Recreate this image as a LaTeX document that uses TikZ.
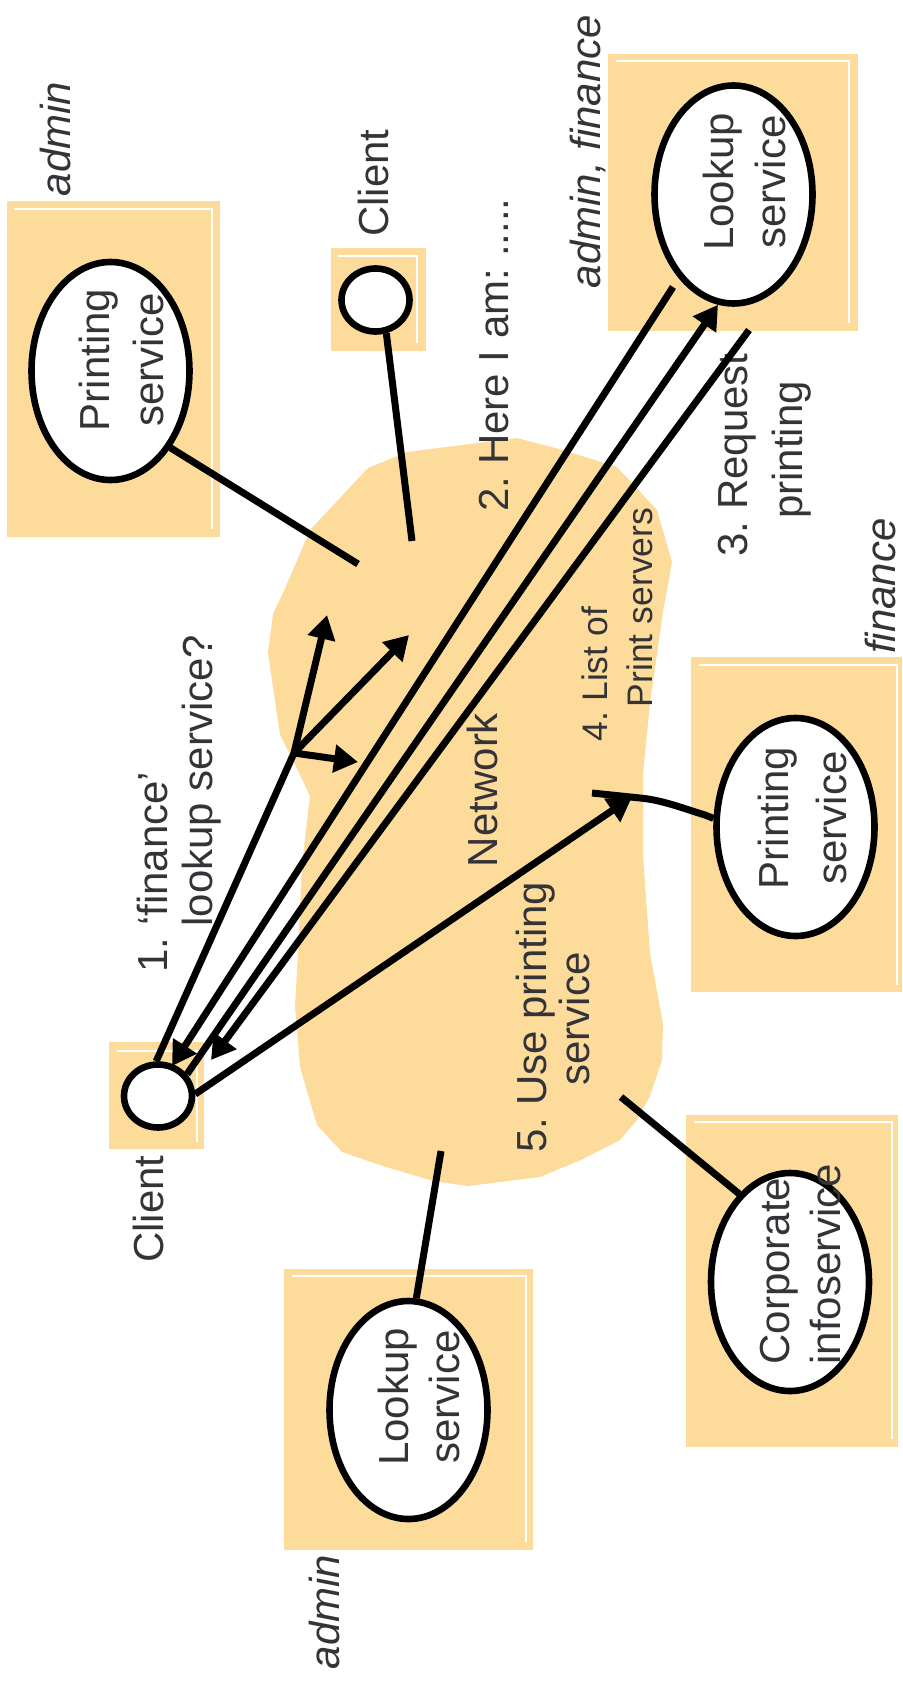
\documentclass[tikz,border=0pt]{standalone}
\usepackage{fontspec}
\setmainfont{Liberation Sans}
\usetikzlibrary{shapes.geometric,arrows.meta}
\definecolor{panelfill}{RGB}{253,220,155}
\definecolor{ink}{RGB}{52,52,56}
\frenchspacing

\begin{document}
\begin{tikzpicture}[x=0.5pt,y=-0.5pt,
  panel/.style={fill=panelfill},
  rim/.style={draw=white,line width=0.75pt},
  svc/.style={ellipse,draw=black,fill=white,line width=3.3pt,
    minimum width=79pt,minimum height=109pt,inner sep=0pt},
  host/.style={ellipse,draw=black,fill=white,line width=3.3pt,
    minimum width=34pt,minimum height=31.5pt,inner sep=0pt},
  lbl/.style={rotate=90,anchor=base,inner sep=0pt,text=ink,
    font=\fontsize{21}{25}\selectfont},
  small/.style={lbl,font=\fontsize{17.75}{21}\selectfont},
  tag/.style={lbl,font=\fontsize{21}{25}\selectfont\itshape},
  conn/.style={draw=black,line width=3.5pt},
  arr/.style={conn,-{Triangle[length=12pt,width=13.5pt]}},
]
\useasboundingbox (0,0) rectangle (902,1684);

% network cloud
\fill[panelfill] (517,438) -- (563,450) -- (617,467) -- (657,510) -- (672,562)
  -- (663,612) -- (650,703) -- (643,774) -- (643,856) -- (650,953) -- (663,1024)
  -- (662,1060) -- (650,1096) -- (637,1120) -- (620,1140) -- (583,1159)
  -- (540,1177) -- (468,1186) -- (433,1181) -- (383,1166) -- (342,1152)
  -- (317,1125) -- (300,1067) -- (295,1006) -- (298,953) -- (302,864)
  -- (310,796) -- (293,760) -- (280,735) -- (268,653) -- (273,614)
  -- (283,593) -- (293,570) -- (310,530) -- (368,468) -- (407,452) -- cycle;

% host panels
\fill[panel] (7,201) rectangle (220,537);      \draw[rim] (14,209) -| (212,529);
\fill[panel] (331,248) rectangle (426,351);    \draw[rim] (338,256) -| (417,343);
\fill[panel] (608,54) rectangle (858,331);     \draw[rim] (616,61) -| (849,323);
\fill[panel] (691,657) rectangle (902,992);    \draw[rim] (699,665) -| (897,985);
\fill[panel] (109,1042) rectangle (204,1149);  \draw[rim] (117,1051) -| (197,1142);
\fill[panel] (284,1269) rectangle (533,1550);  \draw[rim] (292,1276) -| (526,1542);
\fill[panel] (686,1115) rectangle (898,1447);  \draw[rim] (694,1122) -| (892,1439);

% services and clients
\node[svc] (P1) at (110.5,371) {};
\node[svc] (L1) at (733.5,194.5) {};
\node[svc] (P2) at (795.5,827) {};
\node[svc] (L2) at (408.5,1410) {};
\node[svc] (CI) at (790,1282) {};
\node[host] (CT) at (375.5,300) {};
\node[host] (CB) at (158,1096) {};

\node[lbl] (p1a) at (109,360) {Printing};
\node[lbl] (p1b) at (163,360) {service};
\node[lbl] (l1a) at (733,182) {Lookup};
\node[lbl] (l1b) at (785,182) {service};
\node[lbl] (p2a) at (788,818) {Printing};
\node[lbl] (p2b) at (846,818) {service};
\node[lbl] (l2a) at (408,1397) {Lookup};
\node[lbl] (l2b) at (459,1397) {service};
\node[lbl,anchor=base west] (c1) at (789,1365) {Corporate};
\node[lbl,anchor=base west] (c2) at (840,1365) {infoservice};

% group and host labels
\node[tag] (g1) at (70,139) {admin};
\node[tag] (g2) at (600,151.5) {admin, finance};
\node[tag] (g3) at (339,1612) {admin};
\node[tag] (g4) at (895,586) {finance};
\node[lbl] (k1) at (388,183) {Client};
\node[lbl] (k2) at (163,1209) {Client};
\node[lbl] (net) at (497,790) {Network};

% step labels
\node[lbl] (s1a) at (167,872) {1. `finance'};
\node[lbl] (s1b) at (212,780.5) {lookup service?};
\node[lbl] (s2) at (508,355) {2. Here I am: .....};
\node[lbl] (s3a) at (747,455) {3. Request};
\node[lbl] (s3b) at (802,450) {printing};
\node[small] (s4a) at (607,674) {4. List of};
\node[small] (s4b) at (652,607.5) {Print servers};
\node[lbl] (s5a) at (546,1017) {5. Use printing};
\node[lbl] (s5b) at (589,1019) {service};

% free ends inside the network
\coordinate (nP1) at (358,564);
\coordinate (nCT) at (412,541);
\coordinate (nL2) at (441,1151);
\coordinate (nCI) at (621,1097);
\coordinate (nP2) at (592,793);
\coordinate (J) at (294,753);
\coordinate (h1) at (327,615);
\coordinate (h2) at (409,635);
\coordinate (h3) at (358,762);
\coordinate (aTop) at (673,287);
\coordinate (aTip) at (172,1066);
\coordinate (cTop) at (749,330);
\coordinate (cTip) at (211,1060);
\coordinate (uTip) at (632,797);

% attachments to the network
\draw[conn] (P1.-52) -- (nP1);
\draw[conn] (CT.-72) -- (nCT);
\draw[conn] (L2.86) -- (nL2);
\draw[conn] (CI.120) -- (nCI);
\draw[conn] (P2.174) -- (705,815) .. controls (682,808) and (662,800) .. (640,798) -- (nP2);

% 1. multicast request
\draw[conn] (CB.93) -- (J);
\draw[arr] (J) -- (h1);
\draw[arr] (J) -- (h2);
\draw[arr] (J) -- (h3);
% 2.-4. exchange with the lookup service
\draw[arr] (aTop) -- (aTip);
\draw[arr] (CB.37) -- (L1.-98);
\draw[arr] (cTop) -- (cTip);
% 5. use the printing service
\draw[arr] (CB.3) -- (uTip);
\end{tikzpicture}
\end{document}
